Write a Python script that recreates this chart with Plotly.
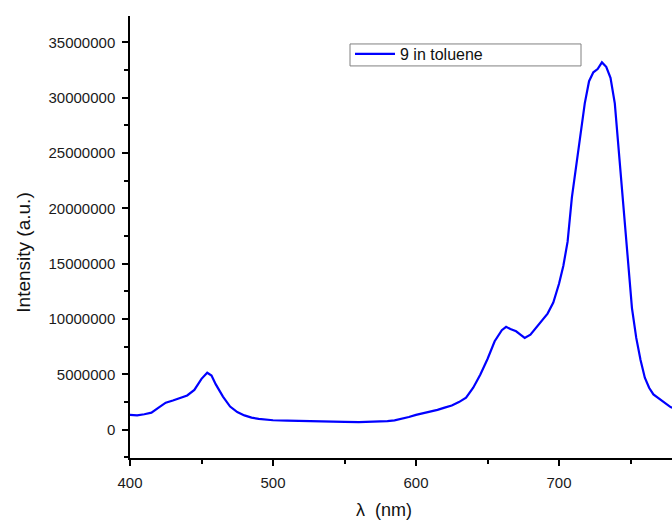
import plotly.graph_objects as go

# Emission spectrum of 9 in toluene
wavelength_nm = [400, 405, 410, 415, 420, 425, 430, 435, 440, 445, 450, 454, 457, 460, 465,
                 470, 475, 480, 485, 490, 500, 510, 520, 530, 540, 550, 560, 570, 580, 585,
                 590, 595, 600, 605, 610, 615, 620, 625, 630, 635, 640, 645, 650, 655, 660,
                 663, 666, 670, 673, 676, 680, 684, 688, 692, 696, 700, 703, 706, 709, 712,
                 715, 718, 721, 724, 727, 730, 733, 736, 739, 742, 745, 748, 751, 754, 757,
                 760, 763, 766, 770, 774, 778, 780]
intensity_millions = [1.35, 1.30, 1.40, 1.55, 2.00, 2.45, 2.65, 2.85, 3.10, 3.60, 4.60, 5.15, 4.90, 4.10, 3.00,
                      2.10, 1.60, 1.30, 1.10, 0.98, 0.86, 0.82, 0.78, 0.75, 0.72, 0.71, 0.70, 0.72, 0.78, 0.85,
                      0.98, 1.15, 1.35, 1.50, 1.62, 1.80, 2.00, 2.20, 2.50, 2.90, 3.80, 5.00, 6.40, 8.00, 9.00,
                      9.30, 9.10, 8.90, 8.60, 8.30, 8.60, 9.20, 9.80, 10.5, 11.5, 13.2, 14.8, 17.0, 21.0, 24.0,
                      27.0, 29.5, 31.5, 32.3, 32.6, 33.2, 32.8, 31.8, 29.5, 25.0, 20.5, 15.5, 11.0, 8.3, 6.3,
                      4.7, 3.8, 3.2, 2.8, 2.4, 2.05, 1.95]
intensity = [v * 1e6 for v in intensity_millions]

series_name = "9 in toluene"
y_tick_values = [0, 5000000, 10000000, 15000000, 20000000, 25000000, 30000000, 35000000]
y_tick_labels = [str(v) for v in y_tick_values]
x_tick_values = [400, 500, 600, 700]
x_tick_labels = ["400", "500", "600", "700"]

FONT = "Liberation Sans, Arial, sans-serif"
PLOT_W = 542.0
PLOT_H = 442.6
ML, MT = 130, 16


def px_x(px):
    return (px - ML) / PLOT_W


def px_y(py):
    return (MT + PLOT_H - py) / PLOT_H


fig = go.Figure()
fig.add_trace(go.Scatter(x=wavelength_nm, y=intensity, mode="lines", name=series_name,
                         line=dict(color="#0000FF", width=2.2)))

axis_common = dict(showgrid=False, zeroline=False, showline=True, linecolor="black", linewidth=1.5,
                   ticks="outside", ticklen=6, tickwidth=1.5, tickcolor="black",
                   ticklabelstandoff=4,
                   tickfont=dict(family=FONT, size=15, color="#1a1a1a"))

fig.update_xaxes(range=[400, 779], tickvals=x_tick_values, ticktext=x_tick_labels,
                 minor=dict(ticks="outside", ticklen=4, tickwidth=1.5, tickcolor="black", dtick=50, tick0=400),
                 **axis_common)
fig.update_yaxes(range=[-2.55e6, 37.39e6], tickvals=y_tick_values, ticktext=y_tick_labels,
                 minor=dict(ticks="outside", ticklen=4, tickwidth=1.5, tickcolor="black", dtick=2.5e6, tick0=0),
                 **axis_common)

fig.update_layout(
    width=672, height=523,
    margin=dict(l=ML, r=0, t=MT, b=65, autoexpand=False),
    paper_bgcolor="white", plot_bgcolor="white",
    font=dict(family=FONT, size=15, color="#1a1a1a"),
    showlegend=True,
    legend=dict(x=px_x(350), y=px_y(37), xanchor="left", yanchor="top",
                borderwidth=0, bgcolor="rgba(255,255,255,0)", itemwidth=40,
                font=dict(family=FONT, size=16, color="#111")),
    shapes=[
        dict(type="rect", xref="paper", yref="paper",
             x0=px_x(350), x1=px_x(581), y0=px_y(66), y1=px_y(44),
             line=dict(color="#808080", width=1), fillcolor="rgba(0,0,0,0)", layer="above"),
    ],
    annotations=[
        dict(text="Intensity (a.u.)", textangle=-90, xref="paper", yref="paper",
             x=px_x(24), y=px_y(253), showarrow=False,
             font=dict(family=FONT, size=19, color="#111"), xanchor="center", yanchor="middle"),
        dict(text="λ  (nm)", xref="paper", yref="paper",
             x=px_x(384), y=px_y(511), showarrow=False,
             font=dict(family=FONT, size=18, color="#111"), xanchor="center", yanchor="middle"),
    ],
)

fig.write_html("out.html", config={"displayModeBar": False},
               post_script="document.body.style.margin='0';document.body.style.padding='0';")
